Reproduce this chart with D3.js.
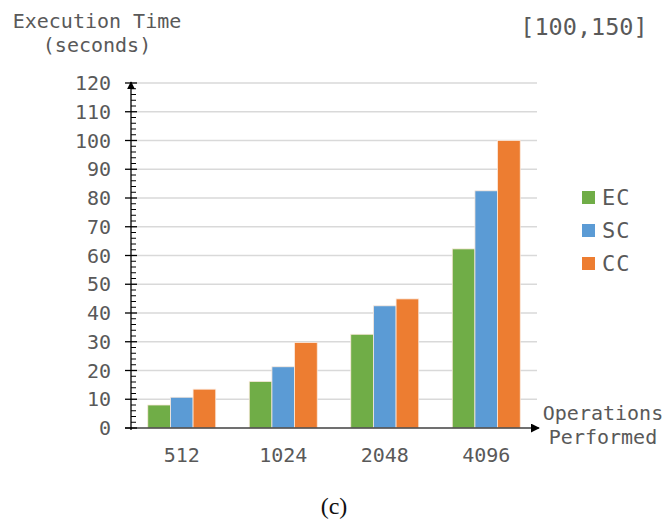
<!DOCTYPE html>
<head>
<meta charset="utf-8">
<style>
  body { margin: 0; background: #fff; }
  text { font-family: "DejaVu Sans Mono", monospace; fill: #595959; }
</style>
</head>
<body>
  <svg width="667" height="524"></svg>

  <script src="https://cdn.jsdelivr.net/npm/d3@7"></script>
  <script>
  // data
  const categories = ['512', '1024', '2048', '4096'];
  const seriesNames = ['EC', 'SC', 'CC'];
  const ecValues = [8.0, 16.2, 32.6, 62.3];
  const scValues = [10.7, 21.3, 42.5, 82.5];
  const ccValues = [13.5, 29.7, 44.9, 100];
  const yTicks = [0, 10, 20, 30, 40, 50, 60, 70, 80, 90, 100, 110, 120];
  const colors = ['#70ad47', '#5b9bd5', '#ed7d31'];

  const series = [ecValues, scValues, ccValues];

  const svg = d3.select('svg');
  const plotLeft = 131, plotRight = 537, plotTop = 83, plotBottom = 428;

  const x = d3.scaleBand().domain(categories).range([plotLeft, plotRight]).paddingInner(0).paddingOuter(0);
  const xInner = d3.scaleBand().domain(seriesNames)
    .range([0, x.bandwidth()]).paddingInner(0).paddingOuter(0.74);
  const y = d3.scaleLinear().domain([0, 120]).range([plotBottom, plotTop]);

  // gridlines
  svg.append('g')
    .selectAll('line')
    .data(yTicks.filter(d => d > 0))
    .enter()
    .append('line')
    .attr('x1', plotLeft).attr('x2', plotRight)
    .attr('y1', d => y(d)).attr('y2', d => y(d))
    .attr('stroke', '#d9d9d9')
    .attr('stroke-width', 1.3);

  // bars
  const groups = svg.append('g')
    .selectAll('g')
    .data(categories)
    .enter()
    .append('g')
    .attr('transform', d => `translate(${x(d)},0)`);
  groups.selectAll('rect')
    .data((c, i) => seriesNames.map((s, j) => ({ s, v: series[j][i], j })))
    .enter()
    .append('rect')
    .attr('x', d => xInner(d.s))
    .attr('width', xInner.bandwidth())
    .attr('y', d => y(d.v))
    .attr('height', d => plotBottom - y(d.v))
    .attr('fill', d => colors[d.j])
    .attr('stroke', '#fbe9dc')
    .attr('stroke-width', 0.8);

  // arrow markers
  const defs = svg.append('defs');
  defs.append('marker')
    .attr('id', 'arrow')
    .attr('viewBox', '0 0 10 10')
    .attr('refX', 9).attr('refY', 5)
    .attr('markerWidth', 6).attr('markerHeight', 6)
    .attr('orient', 'auto')
    .append('path')
    .attr('d', 'M0,0L10,5L0,10z')
    .attr('fill', '#000');

  // x axis
  svg.append('line')
    .attr('x1', plotLeft - 6).attr('x2', plotRight + 2)
    .attr('y1', plotBottom).attr('y2', plotBottom)
    .attr('stroke', '#404040').attr('stroke-width', 1.5)
    .attr('marker-end', 'url(#arrow)');

  // y axis with major and minor ticks
  svg.append('line')
    .attr('x1', plotLeft).attr('x2', plotLeft)
    .attr('y1', plotBottom + 2).attr('y2', plotTop - 1)
    .attr('stroke', '#000').attr('stroke-width', 1.3)
    .attr('marker-end', 'url(#arrow)');
  const minor = d3.range(0, 121, 2).filter(d => d % 10 !== 0);
  svg.append('g')
    .selectAll('line')
    .data(minor)
    .enter()
    .append('line')
    .attr('x1', plotLeft).attr('x2', plotLeft + 5)
    .attr('y1', d => y(d)).attr('y2', d => y(d))
    .attr('stroke', '#000').attr('stroke-width', 1);
  svg.append('g')
    .selectAll('line')
    .data(yTicks)
    .enter()
    .append('line')
    .attr('x1', plotLeft - 6).attr('x2', plotLeft + 6)
    .attr('y1', d => y(d)).attr('y2', d => y(d))
    .attr('stroke', '#000').attr('stroke-width', 1.3);

  // y tick labels
  svg.append('g')
    .selectAll('text')
    .data(yTicks)
    .enter()
    .append('text')
    .attr('x', 111)
    .attr('y', d => y(d) + 7)
    .attr('text-anchor', 'end')
    .style('font-size', '20px')
    .text(d => d);

  // x tick labels
  svg.append('g')
    .selectAll('text')
    .data(categories)
    .enter()
    .append('text')
    .attr('x', d => x(d) + x.bandwidth() / 2)
    .attr('y', 462)
    .attr('text-anchor', 'middle')
    .style('font-size', '20px')
    .text(d => d);

  // axis titles
  svg.append('text').attr('x', 97).attr('y', 28).attr('text-anchor', 'middle')
    .style('font-size', '20px').text('Execution Time');
  svg.append('text').attr('x', 97).attr('y', 52).attr('text-anchor', 'middle')
    .style('font-size', '20px').text('(seconds)');
  svg.append('text').attr('x', 603).attr('y', 420).attr('text-anchor', 'middle')
    .style('font-size', '20px').text('Operations');
  svg.append('text').attr('x', 603).attr('y', 444).attr('text-anchor', 'middle')
    .style('font-size', '20px').text('Performed');
  svg.append('text').attr('x', 584).attr('y', 35).attr('text-anchor', 'middle')
    .style('font-size', '23.5px').text('[100,150]');

  // legend
  const legend = svg.append('g')
    .selectAll('g')
    .data(seriesNames)
    .enter()
    .append('g')
    .attr('transform', (d, i) => `translate(582,${191 + i * 33})`);
  legend.append('rect')
    .attr('width', 13).attr('height', 13)
    .attr('fill', (d, i) => colors[i]);
  legend.append('text')
    .attr('x', 20).attr('y', 14)
    .style('font-size', '22px')
    .style('letter-spacing', '1px')
    .text(d => d);

  // caption
  svg.append('text')
    .attr('x', 334).attr('y', 514)
    .attr('text-anchor', 'middle')
    .style('font-family', '"Liberation Serif", serif')
    .style('font-size', '24px')
    .style('fill', '#111')
    .text('(c)');
  </script>
</body>
</html>
